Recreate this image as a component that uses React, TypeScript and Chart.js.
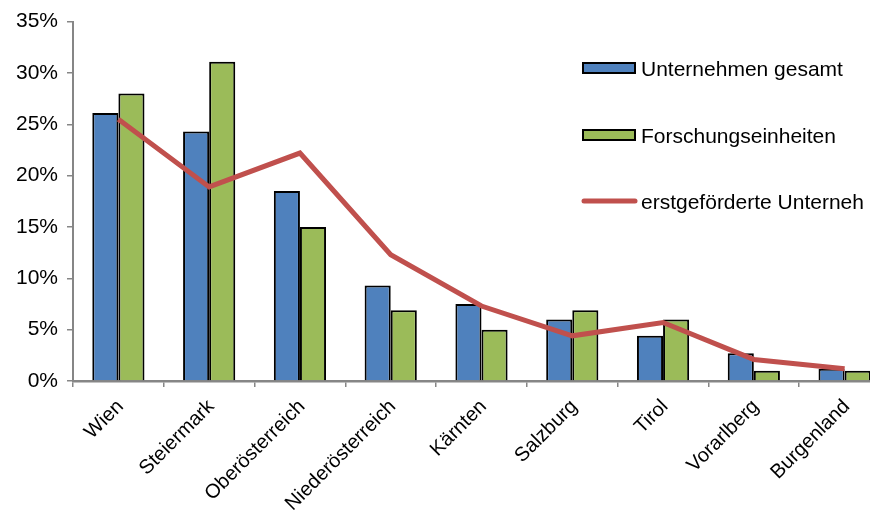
import React, { useEffect, useRef } from "react";
import { Chart, registerables } from "chart.js";

Chart.register(...registerables);

const categories = ["Wien", "Steiermark", "Oberösterreich", "Niederösterreich", "Kärnten", "Salzburg", "Tirol", "Vorarlberg", "Burgenland"];
const unternehmenGesamt = [26.1, 24.3, 18.5, 9.3, 7.5, 6.0, 4.4, 2.7, 1.2];
const forschungseinheiten = [28.0, 31.1, 15.0, 6.9, 5.0, 6.9, 6.0, 1.0, 1.0];
const erstgefoerderte = [25.5, 18.9, 22.2, 12.3, 7.3, 4.4, 5.7, 2.1, 1.2];
const yTicks = [0, 5, 10, 15, 20, 25, 30, 35];

const seriesLabels = ["Unternehmen gesamt", "Forschungseinheiten", "erstgeförderte Unterneh"];
const BLUE = "#4F81BD";
const GREEN = "#9BBB59";
const RED = "#C0504D";
const AXIS = "#868686";
const FONT = "'Liberation Sans', Arial, sans-serif";

const legendPlugin = {
  id: "customLegend",
  afterDraw(chart: any) {
    const ctx = chart.ctx;
    ctx.save();
    ctx.font = `21px ${FONT}`;
    ctx.textBaseline = "middle";
    const x0 = 583;
    const w = 52;
    const rows = [68, 135, 201];
    [BLUE, GREEN].forEach((c, i) => {
      const y = rows[i];
      ctx.fillStyle = c;
      ctx.fillRect(x0, y - 5, w, 10);
      ctx.strokeStyle = "#000";
      ctx.lineWidth = 2;
      ctx.strokeRect(x0, y - 5, w, 10);
    });
    ctx.strokeStyle = RED;
    ctx.lineWidth = 5;
    ctx.lineCap = "round";
    ctx.beginPath();
    ctx.moveTo(x0 + 1, rows[2]);
    ctx.lineTo(x0 + w, rows[2]);
    ctx.stroke();
    ctx.fillStyle = "#000";
    seriesLabels.forEach((t, i) => {
      ctx.fillText(t, 641, rows[i] + 2);
    });
    ctx.restore();
  },
};

export default function App() {
  const ref = useRef<HTMLCanvasElement | null>(null);
  useEffect(() => {
    document.body.style.margin = "0";
    if (!ref.current) return;
    const chart = new Chart(ref.current, {
      type: "bar",
      data: {
        labels: categories,
        datasets: [
          {
            type: "line",
            label: seriesLabels[2],
            data: erstgefoerderte,
            borderColor: RED,
            backgroundColor: RED,
            borderWidth: 5,
            pointRadius: 0,
            tension: 0,
            order: 0,
          } as any,
          {
            label: seriesLabels[0],
            data: unternehmenGesamt,
            backgroundColor: BLUE,
            borderColor: "#000",
            borderWidth: 2,
            categoryPercentage: 0.575,
            barPercentage: 1,
            order: 1,
          },
          {
            label: seriesLabels[1],
            data: forschungseinheiten,
            backgroundColor: GREEN,
            borderColor: "#000",
            borderWidth: 2,
            categoryPercentage: 0.575,
            barPercentage: 1,
            order: 1,
          },
        ],
      },
      options: {
        responsive: false,
        animation: false,
        layout: { padding: { left: 15, top: 18, right: 0, bottom: 0 } },
        plugins: { legend: { display: false }, tooltip: { enabled: false } },
        scales: {
          x: {
            offset: true,
            grid: { display: true, drawOnChartArea: false, color: AXIS, lineWidth: 1.5, tickLength: 6, offset: true },
            border: { display: true, color: AXIS, width: 2.5 },
            ticks: {
              color: "#000",
              font: { family: FONT, size: 20 },
              maxRotation: 45,
              minRotation: 45,
              autoSkip: false,
              labelOffset: 2,
              padding: 8,
            },
            afterFit(scale: any) {
              scale.height = 139;
            },
          },
          y: {
            min: 0,
            max: 35,
            afterBuildTicks(scale: any) {
              scale.ticks = yTicks.map((v) => ({ value: v }));
            },
            grid: { display: true, drawOnChartArea: false, color: AXIS, lineWidth: 1.5, tickLength: 6 },
            border: { display: true, color: AXIS, width: 2 },
            ticks: {
              color: "#000",
              font: { family: FONT, size: 21 },
              padding: 9,
              callback: (v: any) => `${v}%`,
            },
            afterFit(scale: any) {
              scale.width = 58;
            },
          },
        },
      },
      plugins: [legendPlugin],
    });
    return () => chart.destroy();
  }, []);
  return (
    <div style={{ width: 870, height: 520, overflow: "hidden", position: "relative" }}>
      <canvas ref={ref} width={890} height={520} style={{ display: "block" }} />
    </div>
  );
}
